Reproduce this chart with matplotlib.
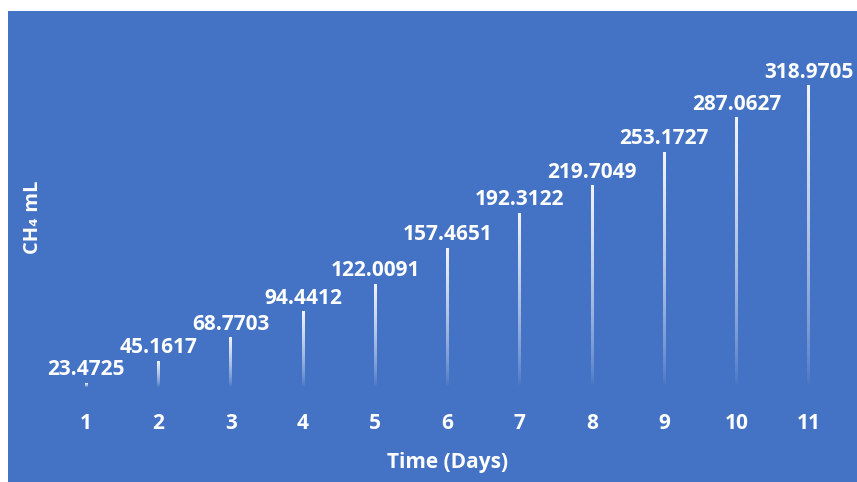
import matplotlib
matplotlib.use('Agg')
import matplotlib.pyplot as plt
from matplotlib.patches import Rectangle
import numpy as np

days = ['1', '2', '3', '4', '5', '6', '7', '8', '9', '10', '11']
ch4_ml = [23.4725, 45.1617, 68.7703, 94.4412, 122.0091, 157.4651,
          192.3122, 219.7049, 253.1727, 287.0627, 318.9705]

blue = '#4472C4'
plt.rcParams['font.family'] = ['Open Sans', 'DejaVu Sans']

fig = plt.figure(figsize=(8.57, 4.82), dpi=100)
fig.patch.set_facecolor('white')
# blue chart area
fig.patches.append(Rectangle((8 / 857, 0), 1 - 8 / 857, 1 - 11 / 482,
                             transform=fig.transFigure, facecolor=blue,
                             edgecolor='none', zorder=0))

ax = fig.add_axes([50 / 857, 1 - 386.5 / 482, 795 / 857, (386.5 - 54) / 482])
ax.set_facecolor('none')
ax.set_zorder(2)

x = np.arange(len(days))
bars = ax.bar(x, np.array(ch4_ml) - 20, bottom=20, width=0.04,
              color='none', edgecolor='none')

# white bars fading into the background towards the bottom
grad = np.zeros((100, 1, 4))
grad[..., :3] = 1.0
grad[:, 0, 3] = np.linspace(0.9, 0.0, 100) ** 0.7
for b in bars:
    bx, by = b.get_x(), b.get_y()
    im = ax.imshow(grad, extent=[bx, bx + b.get_width(), by, by + b.get_height()],
                   aspect='auto', interpolation='bilinear', zorder=2)
    im.set_clip_path(b)

for xi, v in zip(x, ch4_ml):
    ax.annotate(f'{v:.4f}', (xi, v), xytext=(0, 9.5), textcoords='offset points',
                ha='center', va='center', color='white', fontsize=15,
                fontweight='bold')

ax.set_xlim(-0.5, len(days) - 0.5)
ax.set_ylim(20, 350)
ax.set_xticks(x, days)
ax.set_yticks([])
for s in ax.spines.values():
    s.set_visible(False)
ax.tick_params(axis='x', length=0, pad=19, colors='white', labelsize=15)
for t in ax.get_xticklabels():
    t.set_fontweight('bold')

ax.set_xlabel('Time (Days)', color='white', fontsize=15, fontweight='bold',
              labelpad=13)
fig.text(33 / 857, 1 - 217 / 482, 'CH₄ mL', rotation=90, color='white',
         fontsize=14.5, fontweight='bold', ha='center', va='center')

fig.savefig('out.png', dpi=100, facecolor=fig.get_facecolor())
